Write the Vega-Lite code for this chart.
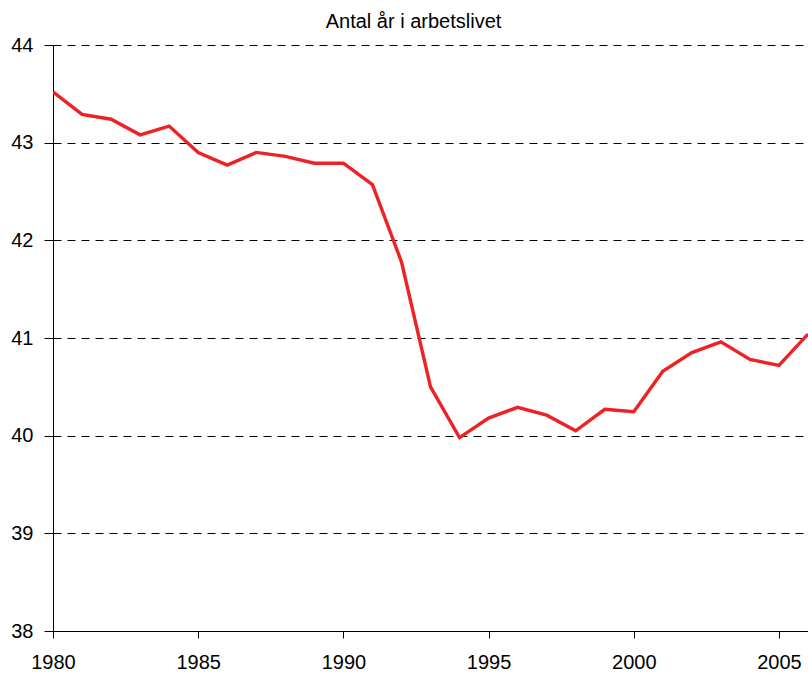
{
  "$schema": "https://vega.github.io/schema/vega-lite/v6.json",
  "width": 755,
  "height": 586,
  "autosize": {"type": "none"},
  "padding": {"left": 53, "top": 45, "right": 0, "bottom": 42},
  "background": "white",
  "config": {
    "view": {"stroke": null},
    "font": "Liberation Sans"
  },
  "title": {
    "text": "Antal år i arbetslivet",
    "fontSize": 20,
    "fontWeight": "normal",
    "font": "Liberation Sans",
    "color": "black",
    "anchor": "middle",
    "dx": -17,
    "offset": 3
  },
  "data": {
    "values": [
      {"year": 1980, "value": 43.52},
      {"year": 1981, "value": 43.29},
      {"year": 1982, "value": 43.24},
      {"year": 1983, "value": 43.08},
      {"year": 1984, "value": 43.17},
      {"year": 1985, "value": 42.90},
      {"year": 1986, "value": 42.77},
      {"year": 1987, "value": 42.90},
      {"year": 1988, "value": 42.86},
      {"year": 1989, "value": 42.79},
      {"year": 1990, "value": 42.79},
      {"year": 1991, "value": 42.57},
      {"year": 1992, "value": 41.78},
      {"year": 1993, "value": 40.50},
      {"year": 1994, "value": 39.98},
      {"year": 1995, "value": 40.18},
      {"year": 1996, "value": 40.29},
      {"year": 1997, "value": 40.21},
      {"year": 1998, "value": 40.05},
      {"year": 1999, "value": 40.27},
      {"year": 2000, "value": 40.245},
      {"year": 2001, "value": 40.66},
      {"year": 2002, "value": 40.85},
      {"year": 2003, "value": 40.96},
      {"year": 2004, "value": 40.78},
      {"year": 2005, "value": 40.72},
      {"year": 2006, "value": 41.04}
    ]
  },
  "mark": {"type": "line", "color": "#ee2224", "strokeWidth": 3.4, "clip": true},
  "encoding": {
    "x": {
      "field": "year",
      "type": "quantitative",
      "scale": {"domain": [1980, 2006], "nice": false, "zero": false},
      "axis": {
        "title": null,
        "values": [1980, 1985, 1990, 1995, 2000, 2005],
        "format": "d",
        "grid": false,
        "domainColor": "black",
        "domainWidth": 1,
        "tickColor": "black",
        "tickSize": 7,
        "labelFontSize": 20,
        "labelColor": "black",
        "labelFont": "Liberation Sans",
        "labelPadding": 14,
        "labelFlush": false,
        "labelOverlap": false
      }
    },
    "y": {
      "field": "value",
      "type": "quantitative",
      "scale": {"domain": [38, 44], "nice": false, "zero": false},
      "axis": {
        "title": null,
        "values": [38, 39, 40, 41, 42, 43, 44],
        "grid": true,
        "gridColor": "black",
        "gridDash": [8, 6],
        "gridWidth": 1,
        "domainColor": "black",
        "domainWidth": 1,
        "tickColor": "black",
        "tickSize": 9,
        "labelFontSize": 20,
        "labelColor": "black",
        "labelFont": "Liberation Sans",
        "labelPadding": 11,
        "labelFlush": false,
        "labelOverlap": false
      }
    }
  }
}
